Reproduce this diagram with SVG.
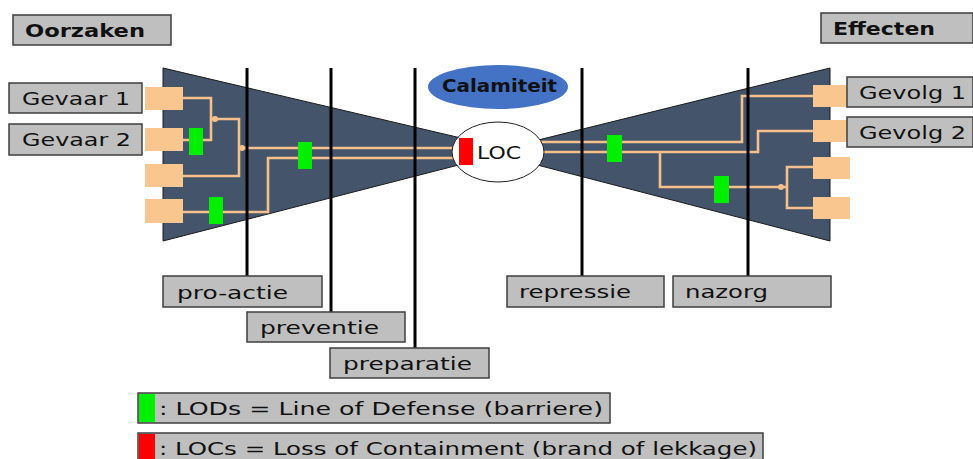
<svg xmlns="http://www.w3.org/2000/svg" width="973" height="459" viewBox="0 0 973 459">
<style>
.lbl{fill:#BFBFBF;stroke:#3F3F3F;stroke-width:1.5}
.t{font-family:"DejaVu Sans",Verdana,sans-serif;font-size:18px;fill:#111}
.b{font-weight:bold}
.src{fill:#FAC68F}
.cn{fill:none;stroke:#F6C08C;stroke-width:2.6}
.lod{fill:#00F000}
.red{fill:#FF0000}
.v{stroke:#000;stroke-width:3}
</style>
<rect width="973" height="459" fill="#fff"/>
<g id="bowtie">
<polygon points="163,68 478,142 478,160 163,241" fill="#44546A" stroke="#1a1a1a" stroke-width="1"/>
<polygon points="830,68 518,145 518,160 830,241" fill="#44546A" stroke="#1a1a1a" stroke-width="1"/>
</g>
<g id="connectors">
<polyline class="cn" points="183,98 211,98 211,140 183,140"/>
<polyline class="cn" points="211,119 239,119 239,176 183,176"/>
<polyline class="cn" points="239,148 460,148"/>
<polyline class="cn" points="183,212 268,212 268,158 460,158"/>
<circle cx="215" cy="119" r="3" fill="#F6C08C"/>
<circle cx="242" cy="148" r="3" fill="#F6C08C"/>
<polyline class="cn" points="540,142 742,142 742,96 813,96"/>
<polyline class="cn" points="540,152 758,152 758,131 813,131"/>
<polyline class="cn" points="660,152 660,187 787,187"/>
<polyline class="cn" points="813,167 787,167 787,208 813,208"/>
<circle cx="781" cy="187" r="3" fill="#F6C08C"/>
</g>
<g id="phase-lines">
<line class="v" x1="247" y1="68" x2="247" y2="277"/>
<line class="v" x1="331" y1="68" x2="331" y2="313"/>
<line class="v" x1="415" y1="68" x2="415" y2="349"/>
<line class="v" x1="582" y1="68" x2="582" y2="277"/>
<line class="v" x1="748" y1="68" x2="748" y2="277"/>
</g>
<g id="causes">
<rect class="src" x="145" y="87" width="38" height="23"/>
<rect class="src" x="145" y="128" width="38" height="23"/>
<rect class="src" x="145" y="164" width="38" height="23"/>
<rect class="src" x="145" y="199" width="38" height="24"/>
</g>
<g id="effects">
<rect class="src" x="813" y="85" width="37" height="22"/>
<rect class="src" x="813" y="120" width="37" height="22"/>
<rect class="src" x="813" y="157" width="37" height="22"/>
<rect class="src" x="813" y="197" width="37" height="22"/>
</g>
<g id="barriers">
<rect class="lod" x="189" y="128" width="14" height="27"/>
<rect class="lod" x="209" y="197" width="14" height="27"/>
<rect class="lod" x="298" y="142" width="14" height="27"/>
<rect class="lod" x="607" y="135" width="15" height="27"/>
<rect class="lod" x="714" y="176" width="15" height="27"/>
</g>
<g id="loc">
<ellipse cx="498" cy="152" rx="46" ry="30" fill="#fff" stroke="#222" stroke-width="1"/>
<rect class="red" x="459" y="138" width="14" height="27"/>
<text class="t" x="477" y="159" font-size="19" textLength="44" lengthAdjust="spacingAndGlyphs">LOC</text>
</g>
<g id="calamiteit">
<ellipse cx="498" cy="87" rx="70" ry="22" fill="#4472C4"/>
<text class="t b" x="442" y="92" font-size="16" textLength="115" lengthAdjust="spacingAndGlyphs">Calamiteit</text>
</g>
<g id="oorzaken">
<rect class="lbl" x="13" y="15" width="158" height="30"/>
<text class="t b" x="25" y="37" textLength="120" lengthAdjust="spacingAndGlyphs">Oorzaken</text>
</g>
<g id="effecten">
<rect class="lbl" x="821" y="13" width="152" height="30"/>
<text class="t b" x="833" y="35" textLength="102" lengthAdjust="spacingAndGlyphs">Effecten</text>
</g>
<g id="gevaar1">
<rect class="lbl" x="9" y="83" width="133" height="30"/>
<text class="t" x="22" y="105" textLength="108" lengthAdjust="spacingAndGlyphs">Gevaar 1</text>
</g>
<g id="gevaar2">
<rect class="lbl" x="9" y="124" width="133" height="31"/>
<text class="t" x="22" y="146" textLength="109" lengthAdjust="spacingAndGlyphs">Gevaar 2</text>
</g>
<g id="gevolg1">
<rect class="lbl" x="847" y="77" width="126" height="30"/>
<text class="t" x="859" y="99" textLength="107" lengthAdjust="spacingAndGlyphs">Gevolg 1</text>
</g>
<g id="gevolg2">
<rect class="lbl" x="847" y="117" width="126" height="30"/>
<text class="t" x="859" y="139" textLength="107" lengthAdjust="spacingAndGlyphs">Gevolg 2</text>
</g>
<g id="pro-actie">
<rect class="lbl" x="163" y="276" width="159" height="31"/>
<text class="t" x="177" y="299" font-size="19" textLength="111" lengthAdjust="spacingAndGlyphs">pro-actie</text>
</g>
<g id="preventie">
<rect class="lbl" x="247" y="312" width="158" height="30"/>
<text class="t" x="260" y="334" font-size="19" textLength="119" lengthAdjust="spacingAndGlyphs">preventie</text>
</g>
<g id="preparatie">
<rect class="lbl" x="330" y="348" width="159" height="30"/>
<text class="t" x="343" y="370" font-size="19" textLength="129" lengthAdjust="spacingAndGlyphs">preparatie</text>
</g>
<g id="repressie">
<rect class="lbl" x="507" y="276" width="157" height="31"/>
<text class="t" x="519" y="298" font-size="19" textLength="112" lengthAdjust="spacingAndGlyphs">repressie</text>
</g>
<g id="nazorg">
<rect class="lbl" x="673" y="276" width="158" height="31"/>
<text class="t" x="685" y="298" font-size="19" textLength="83" lengthAdjust="spacingAndGlyphs">nazorg</text>
</g>
<g id="legend-lod">
<rect class="lbl" x="138" y="393" width="472" height="30"/>
<rect class="lod" x="139" y="394" width="16" height="28"/>
<text class="t" x="159" y="415" textLength="444" lengthAdjust="spacingAndGlyphs">: LODs = Line of Defense (barriere)</text>
</g>
<g id="legend-loc">
<rect class="lbl" x="138" y="433" width="625" height="32"/>
<rect class="red" x="139" y="434" width="16" height="30"/>
<text class="t" x="159" y="455" textLength="598" lengthAdjust="spacingAndGlyphs">: LOCs = Loss of Containment (brand of lekkage)</text>
</g>
</svg>
